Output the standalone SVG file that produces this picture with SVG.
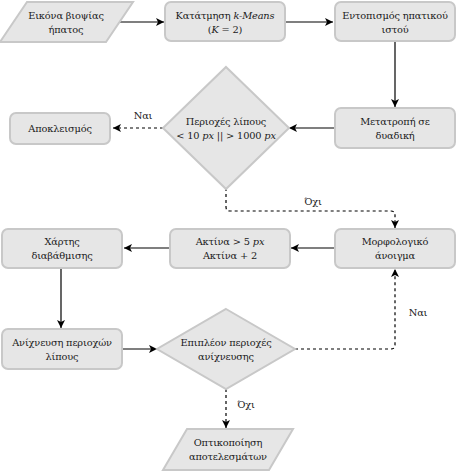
<svg xmlns="http://www.w3.org/2000/svg" width="457" height="471" viewBox="0 0 457 471">
<style>
.n{fill:#e6e6e6;stroke:#c8c8c8;stroke-width:2}
text{font-family:'DejaVu Serif','Liberation Serif',serif;font-size:9.8px;letter-spacing:-0.15px;fill:#1a1a1a;text-anchor:middle}
.c{fill:none;stroke:#000;stroke-width:1.2}
.d{stroke-dasharray:3,3}
</style>
<defs>
<marker id="a" markerWidth="10" markerHeight="10" refX="8" refY="4" orient="auto" markerUnits="userSpaceOnUse">
<path d="M0,0 L8,4 L0,8 L2,4 Z" fill="#000"/>
</marker>
</defs>
<rect width="457" height="471" fill="#fff"/>
<g id="connectors">
<path class="c" d="M118,22 H164" marker-end="url(#a)"/>
<path class="c" d="M285,22 H333" marker-end="url(#a)"/>
<path class="c" d="M395,41 V107" marker-end="url(#a)"/>
<path class="c" d="M335,128 H289" marker-end="url(#a)"/>
<path class="c d" d="M163,128 H113" marker-end="url(#a)"/>
<path class="c d" d="M226,188 V207 Q226,211 230,211 H391 Q395,211 395,215 V228" marker-end="url(#a)"/>
<path class="c" d="M335,248 H291" marker-end="url(#a)"/>
<path class="c" d="M170,248 H124" marker-end="url(#a)"/>
<path class="c" d="M61,268 V328" marker-end="url(#a)"/>
<path class="c" d="M122,349 H157" marker-end="url(#a)"/>
<path class="c d" d="M295,349 H391 Q395,349 395,345 V269" marker-end="url(#a)"/>
<path class="c d" d="M226,389 V428" marker-end="url(#a)"/>
<text x="143" y="119">Ναι</text>
<text x="313" y="205">Όχι</text>
<text x="418" y="316">Ναι</text>
<text x="246" y="408">Όχι</text>
</g>
<g id="n1">
<path class="n" d="M27,2 H133 L106,42 H0 Z"/>
<text x="66" y="19">Εικόνα βιοψίας</text>
<text x="66" y="33">ήπατος</text>
</g>
<g id="n2">
<rect class="n" x="165" y="2" width="120" height="39" rx="6"/>
<text x="225" y="19">Κατάτμηση <tspan font-style="italic">k-Means</tspan></text>
<text x="225" y="33">(<tspan font-style="italic">K</tspan> = 2)</text>
</g>
<g id="n3">
<rect class="n" x="335" y="2" width="120" height="39" rx="6"/>
<text x="395" y="19">Εντοπισμός ηπατικού</text>
<text x="395" y="33">ιστού</text>
</g>
<g id="n4">
<rect class="n" x="335" y="108" width="120" height="40" rx="6"/>
<text x="395" y="125">Μετατροπή σε</text>
<text x="395" y="139">δυαδική</text>
</g>
<g id="n5">
<path class="n" d="M226,67 L289,128 L226,189 L163,128 Z"/>
<text x="226" y="125">Περιοχές λίπους</text>
<text x="226" y="139">&lt; 10 <tspan font-style="italic">px</tspan> || &gt; 1000 <tspan font-style="italic">px</tspan></text>
</g>
<g id="n6">
<rect class="n" x="10" y="113" width="100" height="31" rx="6"/>
<text x="60" y="132">Αποκλεισμός</text>
</g>
<g id="n7">
<rect class="n" x="335" y="229" width="120" height="39" rx="6"/>
<text x="395" y="245">Μορφολογικό</text>
<text x="395" y="259">άνοιγμα</text>
</g>
<g id="n8">
<rect class="n" x="170" y="229" width="120" height="39" rx="6"/>
<text x="230" y="245">Ακτίνα &gt; 5 <tspan font-style="italic">px</tspan></text>
<text x="230" y="259">Ακτίνα + 2</text>
</g>
<g id="n9">
<rect class="n" x="2" y="229" width="120" height="39" rx="6"/>
<text x="62" y="245">Χάρτης</text>
<text x="62" y="259">διαβάθμισης</text>
</g>
<g id="n10">
<rect class="n" x="2" y="329" width="120" height="40" rx="6"/>
<text x="62" y="346">Ανίχνευση περιοχών</text>
<text x="62" y="360">λίπους</text>
</g>
<g id="n11">
<path class="n" d="M226,309 L295,349 L226,389 L157,349 Z"/>
<text x="226" y="346">Επιπλέον περιοχές</text>
<text x="226" y="360">ανίχνευσης</text>
</g>
<g id="n12">
<path class="n" d="M187,429 H293 L269,470 H163 Z"/>
<text x="228" y="446">Οπτικοποίηση</text>
<text x="228" y="460">αποτελεσμάτων</text>
</g>
</svg>
